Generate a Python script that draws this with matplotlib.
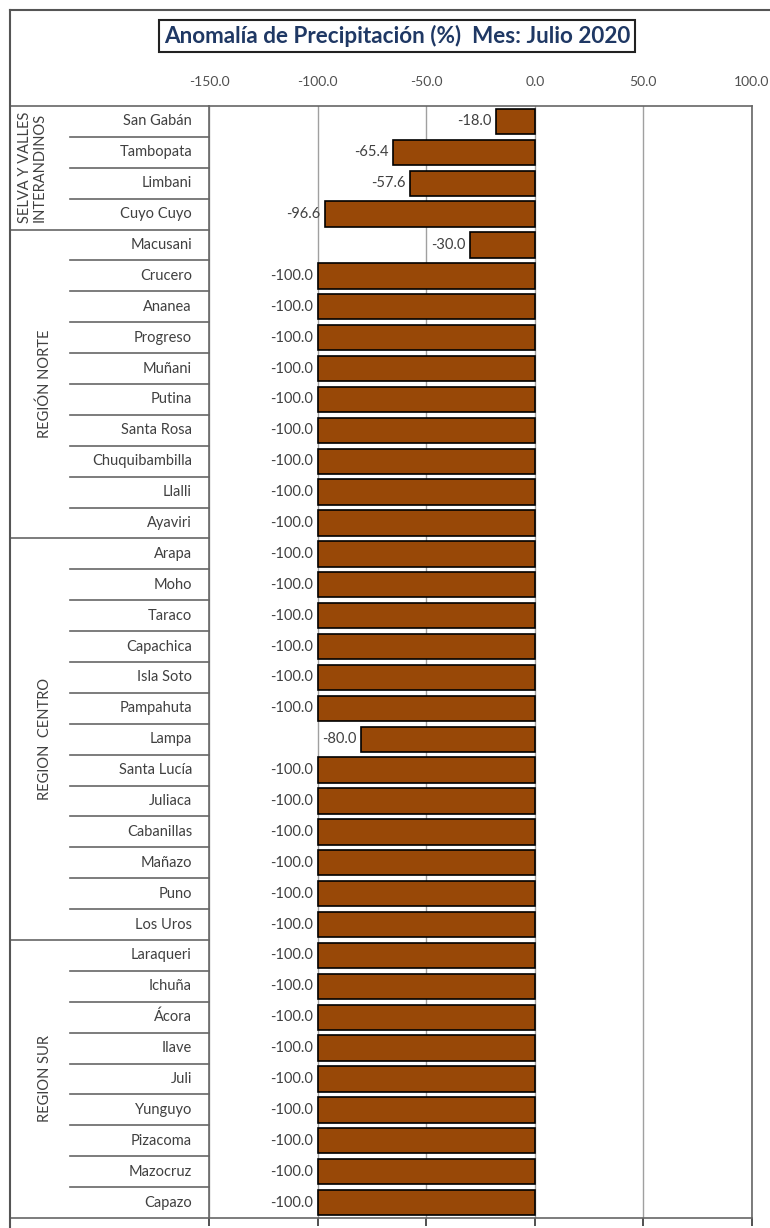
import matplotlib.pyplot as plt
from matplotlib.ticker import FormatStrFormatter
from matplotlib.transforms import blended_transform_factory
from matplotlib.lines import Line2D

plt.rcParams['font.family'] = ['Lato', 'DejaVu Sans']
plt.rcParams['axes.unicode_minus'] = False

estaciones = ['San Gabán', 'Tambopata', 'Limbani', 'Cuyo Cuyo', 'Macusani', 'Crucero',
              'Ananea', 'Progreso', 'Muñani', 'Putina', 'Santa Rosa', 'Chuquibambilla',
              'Llalli', 'Ayaviri', 'Arapa', 'Moho', 'Taraco', 'Capachica', 'Isla Soto',
              'Pampahuta', 'Lampa', 'Santa Lucía', 'Juliaca', 'Cabanillas', 'Mañazo',
              'Puno', 'Los Uros', 'Laraqueri', 'Ichuña', 'Ácora', 'Ilave', 'Juli',
              'Yunguyo', 'Pizacoma', 'Mazocruz', 'Capazo']
anomalia = [-18.0, -65.4, -57.6, -96.6, -30.0, -100.0, -100.0, -100.0, -100.0, -100.0,
            -100.0, -100.0, -100.0, -100.0, -100.0, -100.0, -100.0, -100.0, -100.0,
            -100.0, -80.0, -100.0, -100.0, -100.0, -100.0, -100.0, -100.0, -100.0,
            -100.0, -100.0, -100.0, -100.0, -100.0, -100.0, -100.0, -100.0]
regiones = ['SELVA Y VALLES\nINTERANDINOS', 'REGIÓN NORTE', 'REGION  CENTRO', 'REGION SUR']
n_por_region = [4, 10, 13, 9]
ticks = [-150, -100, -50, 0, 50, 100]

color_barra = '#984807'
gris = '#404040'

fig = plt.figure(figsize=(7.7, 12.28), dpi=100)
ax = fig.add_axes([209 / 770, 10 / 1228, 543 / 770, 1112 / 1228])

y = list(range(len(estaciones)))
ax.barh(y, anomalia, height=0.82, color=color_barra, edgecolor='black', linewidth=1.2, zorder=3)
for i, v in enumerate(anomalia):
    ax.annotate(f'{v:.1f}', (v, i), xytext=(-3, 0), textcoords='offset points',
                ha='right', va='center', fontsize=10.5, color=gris, zorder=4)

ax.set_xlim(-150, 100)
ax.set_ylim(len(estaciones) - 0.5, -0.5)
ax.set_xticks(ticks)
ax.xaxis.set_major_formatter(FormatStrFormatter('%.1f'))
ax.set_yticks([])
ax.tick_params(axis='x', top=False, labeltop=True, bottom=True, labelbottom=False,
               length=6, width=1.2, color='#333333', labelsize=10, labelcolor='#505050', pad=7)
ax.grid(axis='x', color='#a0a0a0', linewidth=1, zorder=1)
for s in ax.spines.values():
    s.set_color('#666666')
    s.set_linewidth(1.2)

# tabla de la izquierda
tr = blended_transform_factory(fig.transFigure, ax.transData)
x_borde = 10 / 770
x_col = 70 / 770
x_eje = 209 / 770
for i, nombre in enumerate(estaciones):
    ax.text(192 / 770, i, nombre, transform=tr, ha='right', va='center',
            fontsize=10.5, color=gris)
inicio = 0
fronteras = [-0.5]
for reg, n in zip(regiones, n_por_region):
    centro = inicio + (n - 1) / 2
    ax.text(32 / 770 if '\n' in reg else 45 / 770, centro, reg, transform=tr,
            rotation=90, ha='center', va='center', fontsize=10.5, color=gris,
            linespacing=1.05)
    for k in range(inicio + 1, inicio + n):
        ax.add_line(Line2D([x_col, x_eje], [k - 0.5, k - 0.5], transform=tr,
                           color='#666666', lw=1.2, clip_on=False))
    inicio += n
    fronteras.append(inicio - 0.5)
for f in fronteras:
    ax.add_line(Line2D([x_borde, x_eje], [f, f], transform=tr,
                       color='#666666', lw=1.2, clip_on=False))

# marco exterior
fig.add_artist(Line2D([x_borde, x_borde], [0, 1 - 10 / 1228], color='#555555', lw=1.5))
fig.add_artist(Line2D([x_borde, 1], [1 - 10 / 1228, 1 - 10 / 1228], color='#555555', lw=1.5))

fig.text(397 / 770, 1 - 36 / 1228, 'Anomalía de Precipitación (%)  Mes: Julio 2020',
         ha='center', va='center', fontsize=16.2, fontweight='bold', color='#1f3864',
         bbox=dict(boxstyle='square,pad=0.2', facecolor='white', edgecolor='#222222', linewidth=1.5))

fig.savefig('out.png', dpi=100)
